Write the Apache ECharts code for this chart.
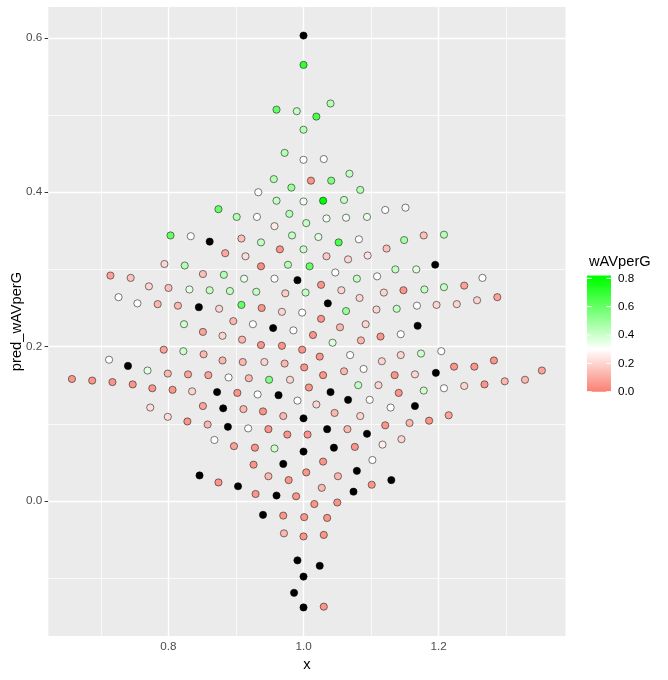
<!DOCTYPE html>
<html>
<head>
<meta charset="utf-8">
<script src="https://cdn.jsdelivr.net/npm/echarts@6/dist/echarts.min.js"></script>
<style>
  html, body { margin: 0; padding: 0; background: #ffffff; }
  #chart { width: 668px; height: 680px; }
</style>
</head>
<body>
<div id="chart"></div>
<script>
// point positions (x, pred_wAVperG) and fill (wAVperG), null = NA
const xs = [
  1.000,1.000,0.960,0.990,1.040,1.019,1.000,0.972,1.000,1.030,1.068,
  0.956,1.011,1.041,0.933,0.982,1.084,0.960,1.000,1.029,1.060,0.874,1.121,1.151,0.901,0.931,0.979,1.034,1.063,1.094,0.957,1.004,0.803,0.833,0.861,0.908,0.937,0.983,1.022,1.052,1.082,1.149,1.178,1.208,
  0.965,1.000,0.884,0.914,1.034,1.066,1.095,1.123,0.794,0.824,0.937,0.977,1.009,1.047,1.079,1.109,1.136,1.167,1.195,1.265,0.714,0.744,0.851,0.882,0.912,0.957,0.991,1.026,0.771,0.800,0.831,0.861,0.891,0.930,0.973,1.003,1.056,1.119,1.148,1.179,1.208,1.238,
  0.726,0.754,0.784,0.814,0.845,0.875,0.908,0.938,0.968,0.998,1.083,1.036,1.063,1.108,1.138,1.168,1.197,1.227,1.257,1.287,
  0.823,0.851,0.880,0.896,0.925,0.955,0.985,1.026,1.054,1.092,1.169,0.909,0.937,0.968,0.998,1.014,1.043,1.085,1.114,1.144,0.793,0.822,0.852,0.880,0.910,0.942,0.972,1.001,
  0.712,0.740,0.769,0.799,0.829,0.859,0.889,0.919,0.949,0.980,1.024,1.069,1.116,1.144,1.174,1.204,1.029,1.060,1.089,1.135,1.165,1.196,1.223,1.253,1.282,1.353,
  0.657,0.687,0.717,0.747,0.776,0.806,0.835,0.872,0.902,0.932,0.963,0.991,1.008,1.040,1.081,1.111,1.141,1.178,1.208,1.238,1.268,1.298,1.328,
  1.019,1.066,1.098,1.129,1.165,0.773,0.851,0.881,0.911,0.940,0.799,0.828,0.858,0.888,0.918,0.948,0.970,0.976,1.000,1.006,
  0.868,0.897,0.928,0.957,1.000,0.926,0.970,1.004,0.846,0.874,0.903,0.948,0.978,0.929,0.960,0.989,0.940,0.970,1.001,
  1.046,1.084,1.121,1.157,1.186,1.215,1.035,1.065,1.094,1.117,1.145,1.045,1.076,1.029,1.102,1.051,1.079,1.130,1.027,1.074,1.101,
  1.016,1.050,1.035,0.971,1.000,1.030,0.991,1.024,1.000,0.986,1.000,1.030
];
const ys = [
  0.603,0.565,0.507,0.505,0.515,0.498,0.481,0.451,0.442,0.443,0.424,
  0.417,0.415,0.415,0.400,0.406,0.403,0.389,0.388,0.389,0.390,0.378,0.377,0.380,0.368,0.368,0.372,0.366,0.367,0.368,0.356,0.360,0.344,0.343,0.336,0.340,0.335,0.344,0.342,0.335,0.339,0.338,0.344,0.345,
  0.326,0.326,0.321,0.317,0.317,0.313,0.318,0.327,0.307,0.305,0.304,0.306,0.304,0.296,0.288,0.291,0.300,0.300,0.306,0.289,0.292,0.289,0.294,0.293,0.288,0.288,0.286,0.280,0.278,0.276,0.274,0.273,0.272,0.271,0.269,0.270,0.273,0.270,0.273,0.274,0.277,0.279,
  0.264,0.256,0.255,0.253,0.251,0.249,0.254,0.250,0.245,0.244,0.263,0.256,0.246,0.248,0.249,0.253,0.254,0.255,0.260,0.264,
  0.229,0.219,0.214,0.233,0.229,0.224,0.221,0.236,0.225,0.229,0.227,0.209,0.202,0.201,0.196,0.215,0.205,0.208,0.213,0.216,0.196,0.194,0.190,0.182,0.180,0.180,0.178,0.173,
  0.183,0.175,0.169,0.165,0.164,0.163,0.160,0.159,0.157,0.157,0.187,0.189,0.181,0.189,0.191,0.194,0.163,0.168,0.171,0.163,0.164,0.166,0.174,0.174,0.182,0.169,
  0.158,0.156,0.154,0.151,0.146,0.144,0.142,0.141,0.140,0.138,0.137,0.130,0.147,0.141,0.150,0.150,0.140,0.143,0.146,0.149,0.151,0.155,0.157,
  0.125,0.131,0.131,0.121,0.123,0.121,0.123,0.120,0.119,0.116,0.109,0.103,0.099,0.096,0.094,0.093,0.110,0.086,0.107,0.086,
  0.079,0.071,0.069,0.068,0.064,0.047,0.048,0.037,0.033,0.024,0.019,0.032,0.027,0.009,0.007,0.006,-0.018,-0.019,-0.021,
  0.114,0.110,0.098,0.101,0.104,0.111,0.093,0.093,0.087,0.073,0.080,0.069,0.070,0.051,0.053,0.032,0.039,0.027,0.017,0.012,0.021,
  -0.004,-0.002,-0.022,-0.042,-0.046,-0.044,-0.077,-0.084,-0.098,-0.119,-0.138,-0.137
];
const fill = [
  null,0.7,0.6,0.42,0.45,0.65,0.45,0.45,0.3,0.3,0.42,
  0.45,0.05,0.55,0.3,0.5,0.45,0.42,0.33,0.8,0.42,0.6,0.3,0.28,0.45,0.3,0.45,0.33,0.33,0.35,0.25,0.42,0.6,0.3,null,0.15,0.42,0.42,0.36,0.65,0.3,0.48,0.15,0.45,
  0.05,0.4,0.1,0.22,0.17,0.2,0.23,0.15,0.2,0.45,0.03,0.45,0.6,0.3,0.42,0.3,0.42,0.36,null,0.3,0.08,0.16,0.15,0.45,0.35,0.3,null,0.05,0.2,0.15,0.35,0.42,0.42,0.42,0.18,0.42,0.2,0.2,0.05,0.42,0.42,0.08,
  0.3,0.3,0.13,0.13,null,0.2,0.6,0.05,0.2,0.3,0.2,null,0.5,0.2,0.42,0.3,0.2,0.2,0.2,0.08,
  0.4,0.08,0.2,0.13,0.3,null,0.3,0.05,0.13,0.2,null,0.13,0.05,0.05,0.05,0.05,0.37,0.13,0.05,0.3,0.08,0.4,0.13,0.13,0.13,0.2,0.13,0.05,
  0.3,null,0.36,0.13,0.08,0.08,0.3,0.13,0.55,0.2,0.05,0.3,0.2,0.2,0.4,0.3,0.05,0.13,0.3,0.05,0.2,null,0.05,0.05,0.05,0.08,
  0.05,0.05,0.05,0.05,0.05,0.05,0.2,null,0.05,0.3,null,0.3,0.05,null,0.42,0.2,0.05,0.4,0.3,0.2,0.05,0.13,0.13,
  0.2,null,0.3,0.3,null,0.22,0.08,null,0.13,0.05,0.22,0.05,0.13,null,0.3,0.05,0.13,0.05,null,0.05,
  0.3,0.08,0.05,0.4,null,0.05,null,0.05,null,0.05,null,0.13,0.05,0.05,null,0.05,null,0.05,0.05,
  0.13,0.2,0.05,0.13,0.05,0.08,null,0.13,null,0.26,0.2,null,0.05,0.05,0.3,0.13,null,null,0.13,null,0.05,
  0.05,0.05,0.05,0.13,0.05,0.05,null,null,null,null,null,0.05
];

const xBreaks = [0.8, 1.0, 1.2];
const xMinor = [0.7, 0.9, 1.1, 1.3];
const yBreaks = [0.0, 0.2, 0.4, 0.6];
const yMinor = [-0.1, 0.1, 0.3, 0.5];
const legendBreaks = [0.0, 0.2, 0.4, 0.6, 0.8];
// fill colours at 0.0, 0.1, ... 0.8 (salmon -> white at 0.3 -> green)
const fillStops = ['#FA8072','#FCAAA1','#FDD5D0','#FFFFFF','#CCFFCC','#99FF99','#66FF66','#33FF33','#00FF00'];

const FONT = 'Liberation Sans, Arial, sans-serif';

const filled = [];
const missing = [];
for (let i = 0; i < xs.length; i++) {
  if (fill[i] === null) missing.push([xs[i], ys[i]]);
  else filled.push([xs[i], ys[i], fill[i]]);
}

// colour bar legend (drawn by hand, ggplot style)
const barX = 587, barW = 24, barTop = 275.5, barBottom = 391.7, barMin = 0, barMax = 0.82;
function barY(v) { return barBottom - (v - barMin) / (barMax - barMin) * (barBottom - barTop); }
const gradStops = [{ offset: 0, color: fillStops[8] }];
for (let k = 8; k >= 0; k--) {
  gradStops.push({ offset: (barMax - k / 10) / (barMax - barMin), color: fillStops[k] });
}
const legendGraphics = [
  { type: 'text', left: 589, top: 254, style: { text: 'wAVperG', font: '14.7px ' + FONT, fill: '#000' } },
  { type: 'rect', shape: { x: barX, y: barTop, width: barW, height: barBottom - barTop },
    style: { fill: new echarts.graphic.LinearGradient(0, 0, 0, 1, gradStops) } }
];
legendBreaks.forEach(function (v) {
  const y = barY(v);
  legendGraphics.push({ type: 'line', shape: { x1: barX, y1: y, x2: barX + barW * 0.2, y2: y }, style: { stroke: '#fff', lineWidth: 1 } });
  legendGraphics.push({ type: 'line', shape: { x1: barX + barW * 0.8, y1: y, x2: barX + barW, y2: y }, style: { stroke: '#fff', lineWidth: 1 } });
  legendGraphics.push({ type: 'text', x: barX + barW + 7, y: y,
    style: { text: v.toFixed(1), font: '11.7px ' + FONT, fill: '#000', verticalAlign: 'middle' } });
});

const gridLines = [].concat(
  xMinor.map(v => ({ xAxis: v, lineStyle: { width: 0.7 } })),
  xBreaks.map(v => ({ xAxis: v, lineStyle: { width: 1.4 } })),
  yMinor.map(v => ({ yAxis: v, lineStyle: { width: 0.7 } })),
  yBreaks.map(v => ({ yAxis: v, lineStyle: { width: 1.4 } }))
);

const chart = echarts.init(document.getElementById('chart'));
const option = {
  backgroundColor: '#ffffff',
  animation: false,
  grid: { left: 48.3, right: 102.5, top: 7, bottom: 44, containLabel: false, outerBoundsMode: 'none',
    show: true, backgroundColor: '#EBEBEB', borderWidth: 0 },
  xAxis: {
    type: 'value', min: 0.622, max: 1.388,
    name: 'x', nameLocation: 'middle', nameGap: 21,
    nameTextStyle: { fontFamily: FONT, fontSize: 14.7, color: '#000' },
    axisLine: { show: false },
    axisTick: { show: true, length: 3.7, lineStyle: { color: '#333', width: 1 }, customValues: xBreaks },
    axisLabel: { margin: 5, fontFamily: FONT, fontSize: 11.7, color: '#4D4D4D',
      customValues: xBreaks, formatter: v => v.toFixed(1) },
    splitLine: { show: false }
  },
  yAxis: {
    type: 'value', min: -0.175, max: 0.640,
    name: 'pred_wAVperG', nameLocation: 'middle', nameGap: 24, nameMoveOverlap: false,
    nameTextStyle: { fontFamily: FONT, fontSize: 14.7, color: '#000' },
    axisLine: { show: false },
    axisTick: { show: true, length: 3.7, lineStyle: { color: '#333', width: 1 }, customValues: yBreaks },
    axisLabel: { margin: 6, fontFamily: FONT, fontSize: 11.7, color: '#4D4D4D',
      customValues: yBreaks, formatter: v => v.toFixed(1) },
    splitLine: { show: false }
  },
  visualMap: {
    show: false, type: 'continuous', min: 0, max: 0.8, dimension: 2, seriesIndex: 1,
    inRange: { color: fillStops }
  },
  graphic: legendGraphics,
  series: [
    {
      type: 'line', data: [], z: 1, silent: true,
      markLine: {
        z: 1, silent: true, symbol: ['none', 'none'], label: { show: false }, animation: false,
        lineStyle: { color: '#ffffff', type: 'solid' },
        data: gridLines
      }
    },
    {
      type: 'scatter', data: filled, z: 3, symbolSize: 7.2,
      itemStyle: { borderColor: '#222', borderWidth: 0.6, opacity: 1 }
    },
    {
      type: 'scatter', data: missing, z: 3, symbolSize: 7.2,
      itemStyle: { color: '#000', borderColor: '#000', borderWidth: 0.6, opacity: 1 }
    }
  ]
};
chart.setOption(option);
</script>
</body>
</html>
